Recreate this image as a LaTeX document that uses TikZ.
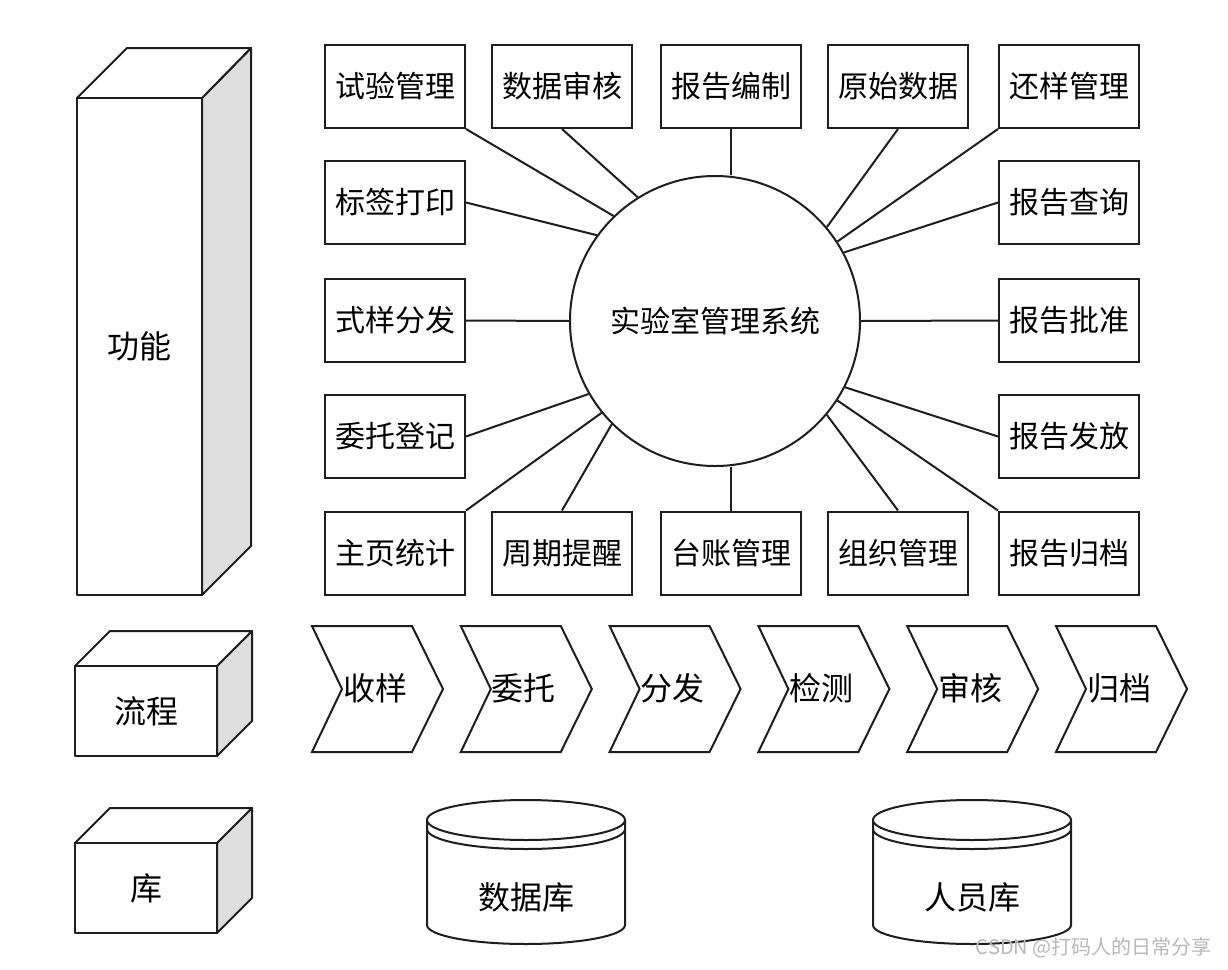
\documentclass[tikz,border=0pt]{standalone}
\usepackage{fontspec}
\newfontfamily\cjk{Noto Sans CJK SC}
\definecolor{ink}{HTML}{1E1E1E}
\definecolor{sidegray}{HTML}{DEDEDE}
\definecolor{wmgray}{HTML}{B9B9B9}

\tikzset{
  fnbox/.style={draw=ink, line width=1pt, fill=white, inner sep=0pt,
    minimum width=70pt, minimum height=41.5pt, font=\cjk\fontsize{15}{18}\selectfont},
  link/.style={ink, line width=1pt},
  face/.style={draw=ink, line width=1pt, line join=round},
  chev/.style={draw=ink, line width=1pt, fill=white, line join=miter},
  bigtext/.style={inner sep=0pt, font=\cjk\fontsize{16}{19}\selectfont}
}

\begin{document}
\begin{tikzpicture}[x=0.5pt, y=-0.5pt]

% Background (fixes the bounding box)
\fill[white] (0,0) rectangle (1228,970);

% --- Left column: solid blocks ---
% 功能
\draw[face, fill=sidegray] (202,98) -- (251,48) -- (251,546) -- (202,595) -- cycle;
\draw[face, fill=white] (77,98) -- (127,48) -- (251,48) -- (202,98) -- cycle;
\node[face, fill=white, bigtext, minimum width=62.5pt, minimum height=248.5pt]
  (func) at (139.5,346.5) {功能};

% 流程
\draw[face, fill=sidegray] (217,666) -- (252,631) -- (252,721) -- (217,756) -- cycle;
\draw[face, fill=white] (75,666) -- (110,631) -- (252,631) -- (217,666) -- cycle;
\node[face, fill=white, bigtext, minimum width=71pt, minimum height=45pt]
  (flow) at (146,711) {流程};

% 库
\draw[face, fill=sidegray] (217,843) -- (252,808) -- (252,898) -- (217,933) -- cycle;
\draw[face, fill=white] (75,843) -- (110,808) -- (252,808) -- (217,843) -- cycle;
\node[face, fill=white, bigtext, minimum width=71pt, minimum height=45pt]
  (store) at (146,888) {库};

% --- Central system ---
\node[circle, draw=ink, line width=1pt, minimum size=145pt, inner sep=0pt,
      font=\cjk\fontsize{15}{18}\selectfont] (sys) at (715,321) {实验室管理系统};

% --- Function boxes ---
\node[fnbox] (trial)    at (395,86.5)  {试验管理};
\node[fnbox] (audit)    at (562,86.5)  {数据审核};
\node[fnbox] (compile)  at (731,86.5)  {报告编制};
\node[fnbox] (rawdata)  at (898,86.5)  {原始数据};
\node[fnbox] (giveback) at (1069,86.5) {还样管理};

\node[fnbox] (tagprint) at (395,202.5) {标签打印};
\node[fnbox] (dispatch) at (395,320.5) {式样分发};
\node[fnbox] (entrust)  at (395,436.5) {委托登记};

\node[fnbox] (query)    at (1069,202.5) {报告查询};
\node[fnbox] (approve)  at (1069,320.5) {报告批准};
\node[fnbox] (issue)    at (1069,436.5) {报告发放};

\node[fnbox] (home)     at (395,553)  {主页统计};
\node[fnbox] (remind)   at (562,553)  {周期提醒};
\node[fnbox] (ledger)   at (731,553)  {台账管理};
\node[fnbox] (org)      at (898,553)  {组织管理};
\node[fnbox] (archive)  at (1069,553) {报告归档};

% --- Spokes to the system ---
\draw[link] (trial.south east) -- (sys.134);
\draw[link] (audit.south) -- (sys.122);
\draw[link] (compile.south) -- (compile.south |- sys.north);
\draw[link] (rawdata.south) -- (sys.40);
\draw[link] (giveback.south west) -- (sys.33);
\draw[link] (tagprint.east) -- (sys.144);
\draw[link] (query.west) -- (sys.28);
\draw[link] (dispatch.east) -- (sys.180);
\draw[link] (approve.west) -- (sys.0);
\draw[link] (entrust.east) -- (sys.210.6);
\draw[link] (issue.west) -- (sys.-27);
\draw[link] (home.north east) -- (sys.219);
\draw[link] (remind.north) -- (sys.225);
\draw[link] (ledger.north) -- (ledger.north |- sys.south);
\draw[link] (org.north) -- (sys.-40);
\draw[link] (archive.north west) -- (sys.-33);

% --- Process chevrons ---
\draw[chev] (312,626) -- ++(100,0) -- ++(31,63) -- ++(-31,63) -- ++(-100,0) -- ++(30,-63) -- cycle;
\node[bigtext] (recv) at (375,688) {收样};
\draw[chev] (460.8,626) -- ++(100,0) -- ++(31,63) -- ++(-31,63) -- ++(-100,0) -- ++(30,-63) -- cycle;
\node[bigtext] (consign) at (523.8,688) {委托};
\draw[chev] (609.6,626) -- ++(100,0) -- ++(31,63) -- ++(-31,63) -- ++(-100,0) -- ++(30,-63) -- cycle;
\node[bigtext] (distr) at (672.6,688) {分发};
\draw[chev] (758.4,626) -- ++(100,0) -- ++(31,63) -- ++(-31,63) -- ++(-100,0) -- ++(30,-63) -- cycle;
\node[bigtext] (detect) at (821.4,688) {检测};
\draw[chev] (907.2,626) -- ++(100,0) -- ++(31,63) -- ++(-31,63) -- ++(-100,0) -- ++(30,-63) -- cycle;
\node[bigtext] (review) at (970.2,688) {审核};
\draw[chev] (1056,626) -- ++(100,0) -- ++(31,63) -- ++(-31,63) -- ++(-100,0) -- ++(30,-63) -- cycle;
\node[bigtext] (file) at (1119,688) {归档};

% --- Databases ---
\draw[face, fill=white] (427,820) -- (427,925)
  arc[start angle=180, end angle=0, x radius=99, y radius=19] -- (625,820);
\draw[face, fill=white] (526,820) ellipse [x radius=99, y radius=20];
\draw[face] (427,829) arc[start angle=180, end angle=0, x radius=99, y radius=20];
\node[bigtext] (datadb) at (526,897) {数据库};

\draw[face, fill=white] (873,820) -- (873,925)
  arc[start angle=180, end angle=0, x radius=99, y radius=19] -- (1071,820);
\draw[face, fill=white] (972,820) ellipse [x radius=99, y radius=20];
\draw[face] (873,829) arc[start angle=180, end angle=0, x radius=99, y radius=20];
\node[bigtext] (staffdb) at (972,897) {人员库};

% Watermark
\node[text=wmgray, inner sep=0pt, anchor=east, font=\cjk\fontsize{10}{12}\selectfont]
  (mark) at (1212,948) {CSDN @打码人的日常分享};

\end{tikzpicture}
\end{document}
